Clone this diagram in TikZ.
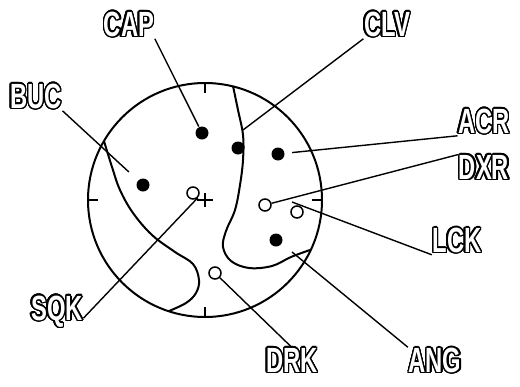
\documentclass[tikz,border=0pt]{standalone}
\usepackage{fontspec}
\usepackage{contour}
\newfontfamily\lblfont[FakeStretch=0.68]{Liberation Sans}
\contourlength{1.4pt}
\contournumber{24}
\newcommand{\outl}[1]{\contour{black}{#1}}
\tikzset{
  every picture/.style={line width=1.4pt},
  lbl/.style={text=white, inner sep=0pt, font=\lblfont\bfseries\fontsize{35}{35}\selectfont},
  dot/.style={circle, fill=black, inner sep=0pt, minimum size=13pt},
  ring/.style={circle, draw, fill=white, inner sep=0pt, minimum size=12pt, line width=1.5pt},
  leader/.style={line width=1.4pt},
  rim/.style={line width=2pt},
}

\begin{document}
\begin{tikzpicture}[x=1pt, y=-1pt]
  \useasboundingbox (0,0) rectangle (520,386);
  % outer circle with ticks
  \coordinate (ctr) at (205,200);
  \draw[rim] (ctr) circle (117pt);
  \draw[rim] (205,83) -- (205,93) (205,317) -- (205,307)
             (88,200) -- (98,200) (322,200) -- (312,200);
  \draw[leader] (ctr) +(-8,0) -- +(8,0) (ctr) +(0,-7) -- +(0,7);
  % region boundaries
  \draw[rim] plot[smooth, tension=0.6] coordinates {(104,141) (112,167) (120,190) (133,213) (152,235)
    (175,252) (193,264) (199,280) (196,293) (186,303) (169,311)};
  \draw[rim] plot[smooth, tension=0.6] coordinates {(233,86) (238,110) (243,135) (243,160) (240,185)
    (235,210) (226,231) (223,247) (231,261) (249,268) (272,266) (291,257) (310,250)};
  % sites
  \node[dot] (cap) at (202,133) {};
  \node[dot] (clv) at (238,148) {};
  \node[dot] (acr) at (278,154) {};
  \node[dot] (buc) at (143,185) {};
  \node[dot] (ang) at (276,240) {};
  \node[ring] (sqk) at (193,193) {};
  \node[ring] (dxr) at (265,205) {};
  \node[ring] (lck) at (297,212) {};
  \node[ring] (drk) at (215,273) {};
  \coordinate (clvEnd) at (243,130);
  \coordinate (angEnd) at (292,252);
  \coordinate (lckEnd) at (292,202);
  % labels
  \node[lbl] (capL) at (129,25) {\outl{CAP}};
  \node[lbl] (bucL) at (36,97) {\outl{BUC}};
  \node[lbl] (clvL) at (387,25) {\outl{CLV}};
  \node[lbl] (acrL) at (484,122) {\outl{ACR}};
  \node[lbl] (dxrL) at (484,168) {\outl{DXR}};
  \node[lbl] (lckL) at (457,241) {\outl{LCK}};
  \node[lbl] (angL) at (435,361) {\outl{ANG}};
  \node[lbl] (drkL) at (292,361) {\outl{DRK}};
  \node[lbl] (sqkL) at (57,312) {\outl{SQK}};
  % leaders
  \draw[leader] (capL.south east) -- (cap);
  \draw[leader, shorten >=12pt] (bucL.south east) -- (buc);
  \draw[leader] (clvL.south west) -- (clvEnd);
  \draw[leader, shorten >=7pt] (acrL.south west) -- (acr);
  \draw[leader] (dxrL.north west) -- (dxr);
  \draw[leader] (lckL.south west) -- (lckEnd);
  \draw[leader] (angL.north west) -- (angEnd);
  \draw[leader] (drkL.north) -- (drk);
  \draw[leader] (sqkL.-13) -- (sqk.south east);
\end{tikzpicture}
\end{document}
